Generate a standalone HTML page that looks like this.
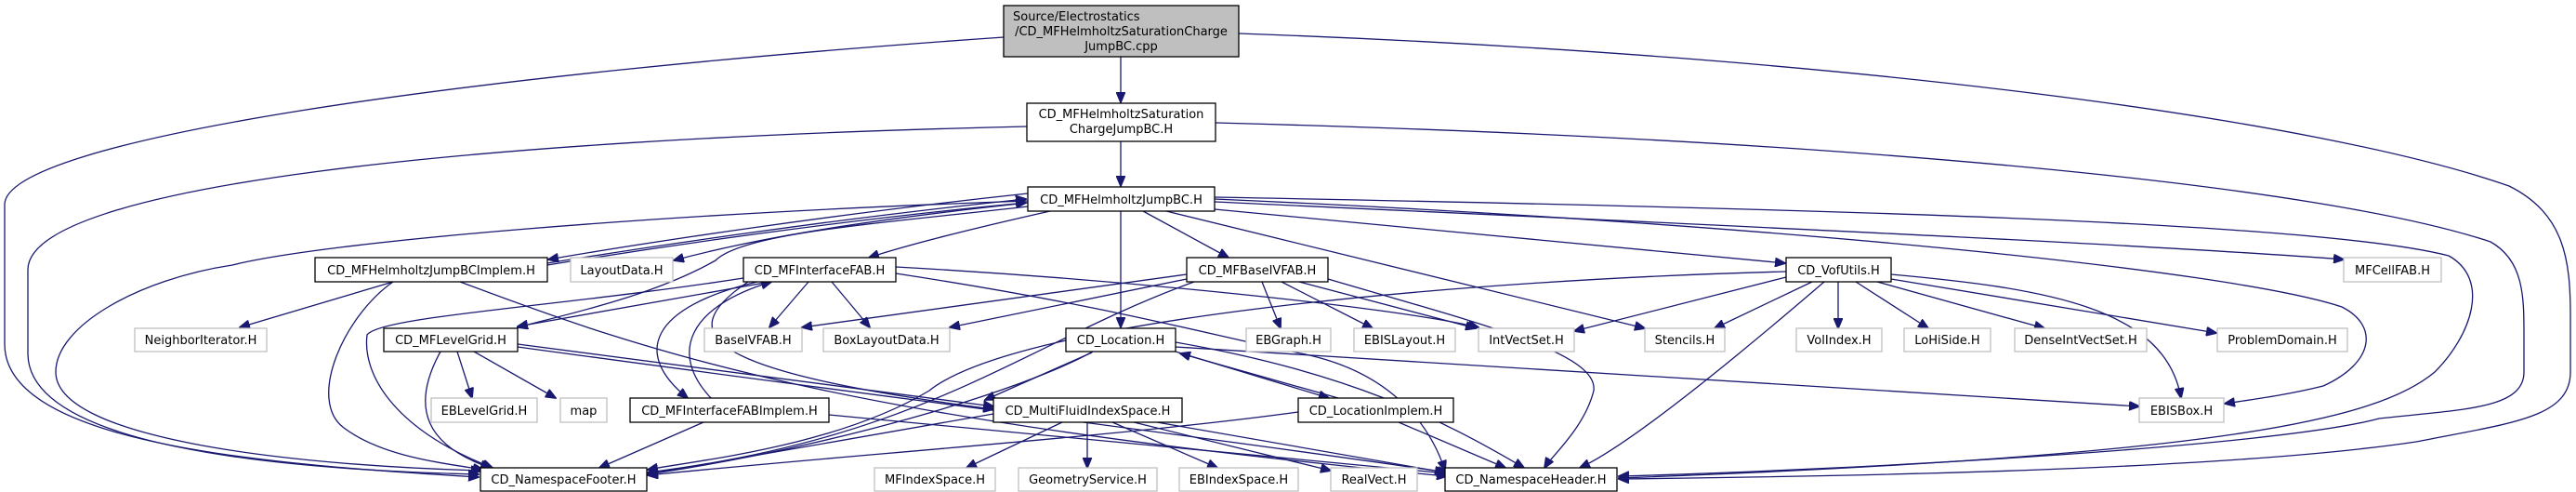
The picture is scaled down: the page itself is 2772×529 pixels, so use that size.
<!DOCTYPE html>
<html><head><meta charset="utf-8"><style>
html,body{margin:0;padding:0;background:#fff;}
svg{display:block;}
text{font-family:"DejaVu Sans","Liberation Sans",sans-serif;font-size:13px;fill:#000;}
.e{fill:none;stroke:#191970;stroke-width:1.3;}
.nb{fill:#fff;stroke:#000;stroke-width:1.3;}
.ng{fill:#fff;stroke:#bfbfbf;stroke-width:1.3;}
</style></head><body>
<svg width="2772" height="529" viewBox="0 0 2772 529" xmlns="http://www.w3.org/2000/svg">
<defs>
<marker id="a" markerUnits="userSpaceOnUse" markerWidth="12" markerHeight="10" refX="11" refY="5" orient="auto">
<path d="M0,0 L12,5 L0,10 z" fill="#191970" stroke="#191970"/>
</marker>
</defs>
<g marker-end="url(#a)">
<!-- root -->
<path class="e" d="M1206,61 L1206,110"/>
<path class="e" d="M1080,40 C500,80 5,150 5,220 L5,370 C5,480 300,500 515,513"/>
<path class="e" d="M1333,36 C2000,60 2500,130 2700,200 C2760,230 2766,280 2766,340 L2766,400 C2766,450 2700,455 2600,475 C2400,505 2000,512 1742,515"/>
<!-- satcharge -->
<path class="e" d="M1206,152 L1206,200"/>
<path class="e" d="M1105,136 C500,150 30,200 30,290 L30,380 C30,480 300,505 515,510"/>
<path class="e" d="M1308,132 C2000,150 2500,200 2680,260 C2716,280 2716,320 2716,360 L2716,400 C2716,440 2650,440 2560,450 C2450,480 2000,505 1742,512"/>
<!-- jumpbc -->
<path class="e" d="M1106,208 C900,230 700,260 590,279"/>
<path class="e" d="M589,283 C700,265 900,235 1104,214"/>
<path class="e" d="M589,285 C700,267 900,237 1104,218"/>
<path class="e" d="M1106,218 C900,240 800,260 725,280"/>
<path class="e" d="M1130,227 C1050,245 980,262 935,277"/>
<path class="e" d="M1106,222 C950,240 800,250 770,280 C700,320 600,340 557,352"/>
<path class="e" d="M1206,227 L1206,352"/>
<path class="e" d="M1230,227 L1322,277"/>
<path class="e" d="M1255,227 L1770,353"/>
<path class="e" d="M1307,225 L1921,283"/>
<path class="e" d="M1307,217 C1800,240 2300,262 2522,279"/>
<path class="e" d="M1307,214 C1900,240 2400,290 2520,330 C2560,350 2555,390 2500,415 C2460,425 2420,430 2394,434"/>
<path class="e" d="M1307,212 C2000,225 2500,240 2635,275 C2680,300 2660,360 2620,400 C2560,450 2400,490 1742,514"/>
<path class="e" d="M1106,216 C700,230 350,260 250,285 C150,300 60,350 60,400 C60,470 300,500 518,506"/>
<!-- jumpbcimplem -->
<path class="e" d="M423,303 L258,352"/>
<path class="e" d="M423,303 C370,340 330,430 370,460 C410,490 470,497 520,505"/>
<path class="e" d="M495,303 C700,380 900,450 1557,512"/>
<!-- MFInterfaceFAB -->
<path class="e" d="M870,303 L828,352"/>
<path class="e" d="M895,303 L936,352"/>
<path class="e" d="M823,304 L557,351"/>
<path class="e" d="M964,287 C1200,300 1500,330 1591,352"/>
<path class="e" d="M815,303 C700,330 680,380 740,428"/>
<path class="e" d="M765,428 C720,380 740,330 830,303"/>
<path class="e" d="M800,299 C600,330 410,340 395,360 C390,400 420,460 530,503"/>
<path class="e" d="M964,294 C1200,330 1300,360 1400,380 C1500,400 1540,460 1555,506"/>
<path class="e" d="M805,303 C720,360 760,400 1069,440"/>
<!-- MFLevelGrid -->
<path class="e" d="M492,378 L508,428"/>
<path class="e" d="M510,378 L598,428"/>
<path class="e" d="M474,378 C440,440 460,480 528,503"/>
<path class="e" d="M557,370 L1069,437"/>
<path class="e" d="M557,373 C900,420 1300,470 1558,508"/>
<!-- InterfaceFABImplem -->
<path class="e" d="M757,454 L645,503"/>
<path class="e" d="M892,446 L1557,509"/>
<!-- MFBaseIVFAB -->
<path class="e" d="M1277,295 L863,352"/>
<path class="e" d="M1277,300 L1022,352"/>
<path class="e" d="M1358,303 L1378,353"/>
<path class="e" d="M1379,303 L1477,353"/>
<path class="e" d="M1398,303 L1588,353"/>
<path class="e" d="M1429,300 C1600,350 1720,380 1715,420 C1705,460 1670,490 1662,503"/>
<path class="e" d="M1285,303 C1100,370 1000,470 697,508"/>
<!-- VofUtils -->
<path class="e" d="M1922,298 L1694,356"/>
<path class="e" d="M1950,303 L1845,353"/>
<path class="e" d="M1978,303 L1978,353"/>
<path class="e" d="M1997,303 L2075,353"/>
<path class="e" d="M2020,303 L2200,353"/>
<path class="e" d="M2035,300 L2385,358"/>
<path class="e" d="M2035,295 C2200,310 2330,330 2347,428"/>
<path class="e" d="M1963,303 C1850,400 1750,480 1700,503"/>
<path class="e" d="M1922,292 C1600,300 1100,340 1000,420 C900,480 750,495 697,505"/>
<!-- Location -->
<path class="e" d="M1265,378 L1430,428"/>
<path class="e" d="M1440,428 L1270,380"/>
<path class="e" d="M1176,378 C1100,420 900,480 697,510"/>
<path class="e" d="M1265,368 C1450,400 1550,450 1640,503"/>
<path class="e" d="M1265,373 L2302,437"/>
<path class="e" d="M1175,379 L1060,430"/>
<!-- LocationImplem -->
<path class="e" d="M1505,454 L1620,503"/>
<path class="e" d="M1397,443 C1200,470 900,490 697,511"/>
<!-- MultiFluidIndexSpace -->
<path class="e" d="M1143,454 L1040,503"/>
<path class="e" d="M1170,454 L1170,503"/>
<path class="e" d="M1197,454 L1310,503"/>
<path class="e" d="M1220,454 L1432,506"/>
<path class="e" d="M1245,454 L1555,508"/>
<path class="e" d="M1069,445 L697,510"/>
</g>
<!-- nodes -->
<rect x="1080" y="6" width="253" height="55" fill="#bfbfbf" stroke="#000" stroke-width="1.3"/>
<text x="1090" y="22">Source/Electrostatics</text>
<text x="1206.5" y="38" text-anchor="middle">/CD_MFHelmholtzSaturationCharge</text>
<text x="1206.5" y="54" text-anchor="middle">JumpBC.cpp</text>

<rect class="nb" x="1105" y="111" width="203" height="41"/>
<text x="1206.5" y="127" text-anchor="middle">CD_MFHelmholtzSaturation</text>
<text x="1206.5" y="143" text-anchor="middle">ChargeJumpBC.H</text>

<rect class="nb" x="1106" y="201" width="201" height="26"/>
<text x="1206.5" y="219" text-anchor="middle">CD_MFHelmholtzJumpBC.H</text>

<rect class="nb" x="339" y="277" width="250" height="26"/><text x="464" y="295" text-anchor="middle">CD_MFHelmholtzJumpBCImplem.H</text>
<rect class="ng" x="614" y="277" width="110" height="26"/><text x="669" y="295" text-anchor="middle">LayoutData.H</text>
<rect class="nb" x="800" y="277" width="164" height="26"/><text x="882" y="295" text-anchor="middle">CD_MFInterfaceFAB.H</text>
<rect class="nb" x="1277" y="277" width="152" height="26"/><text x="1353" y="295" text-anchor="middle">CD_MFBaseIVFAB.H</text>
<rect class="nb" x="1922" y="277" width="113" height="26"/><text x="1978.5" y="295" text-anchor="middle">CD_VofUtils.H</text>
<rect class="ng" x="2522" y="277" width="105" height="26"/><text x="2574.5" y="295" text-anchor="middle">MFCellFAB.H</text>

<rect class="ng" x="145" y="353" width="142" height="25"/><text x="216" y="370" text-anchor="middle">NeighborIterator.H</text>
<rect class="nb" x="413" y="353" width="144" height="25"/><text x="485" y="370" text-anchor="middle">CD_MFLevelGrid.H</text>
<rect class="ng" x="758" y="353" width="105" height="25"/><text x="810.5" y="370" text-anchor="middle">BaseIVFAB.H</text>
<rect class="ng" x="886" y="353" width="136" height="25"/><text x="954" y="370" text-anchor="middle">BoxLayoutData.H</text>
<rect class="nb" x="1147" y="353" width="118" height="25"/><text x="1206" y="370" text-anchor="middle">CD_Location.H</text>
<rect class="ng" x="1341" y="353" width="91" height="25"/><text x="1386.5" y="370" text-anchor="middle">EBGraph.H</text>
<rect class="ng" x="1457" y="353" width="109" height="25"/><text x="1511.5" y="370" text-anchor="middle">EBISLayout.H</text>
<rect class="ng" x="1591" y="353" width="103" height="25"/><text x="1642.5" y="370" text-anchor="middle">IntVectSet.H</text>
<rect class="ng" x="1770" y="353" width="86" height="25"/><text x="1813" y="370" text-anchor="middle">Stencils.H</text>
<rect class="ng" x="1933" y="353" width="92" height="25"/><text x="1979" y="370" text-anchor="middle">VolIndex.H</text>
<rect class="ng" x="2049" y="353" width="93" height="25"/><text x="2095.5" y="370" text-anchor="middle">LoHiSide.H</text>
<rect class="ng" x="2168" y="353" width="142" height="25"/><text x="2239" y="370" text-anchor="middle">DenseIntVectSet.H</text>
<rect class="ng" x="2386" y="353" width="140" height="25"/><text x="2456" y="370" text-anchor="middle">ProblemDomain.H</text>

<rect class="ng" x="464" y="428" width="114" height="26"/><text x="521" y="446" text-anchor="middle">EBLevelGrid.H</text>
<rect class="ng" x="603" y="428" width="50" height="26"/><text x="628" y="446" text-anchor="middle">map</text>
<rect class="nb" x="678" y="428" width="214" height="26"/><text x="785" y="446" text-anchor="middle">CD_MFInterfaceFABImplem.H</text>
<rect class="nb" x="1069" y="428" width="203" height="26"/><text x="1170.5" y="446" text-anchor="middle">CD_MultiFluidIndexSpace.H</text>
<rect class="nb" x="1397" y="428" width="167" height="26"/><text x="1480.5" y="446" text-anchor="middle">CD_LocationImplem.H</text>
<rect class="ng" x="2302" y="428" width="91" height="26"/><text x="2347.5" y="446" text-anchor="middle">EBISBox.H</text>

<rect class="nb" x="517" y="503" width="179" height="25"/><text x="606.5" y="520" text-anchor="middle">CD_NamespaceFooter.H</text>
<rect class="ng" x="941" y="503" width="130" height="25"/><text x="1006" y="520" text-anchor="middle">MFIndexSpace.H</text>
<rect class="ng" x="1096" y="503" width="149" height="25"/><text x="1170.5" y="520" text-anchor="middle">GeometryService.H</text>
<rect class="ng" x="1269" y="503" width="128" height="25"/><text x="1333" y="520" text-anchor="middle">EBIndexSpace.H</text>
<rect class="ng" x="1432" y="503" width="93" height="25"/><text x="1478.5" y="520" text-anchor="middle">RealVect.H</text>
<rect class="nb" x="1555" y="503" width="185" height="25"/><text x="1647.5" y="520" text-anchor="middle">CD_NamespaceHeader.H</text>
</svg>
</body></html>
